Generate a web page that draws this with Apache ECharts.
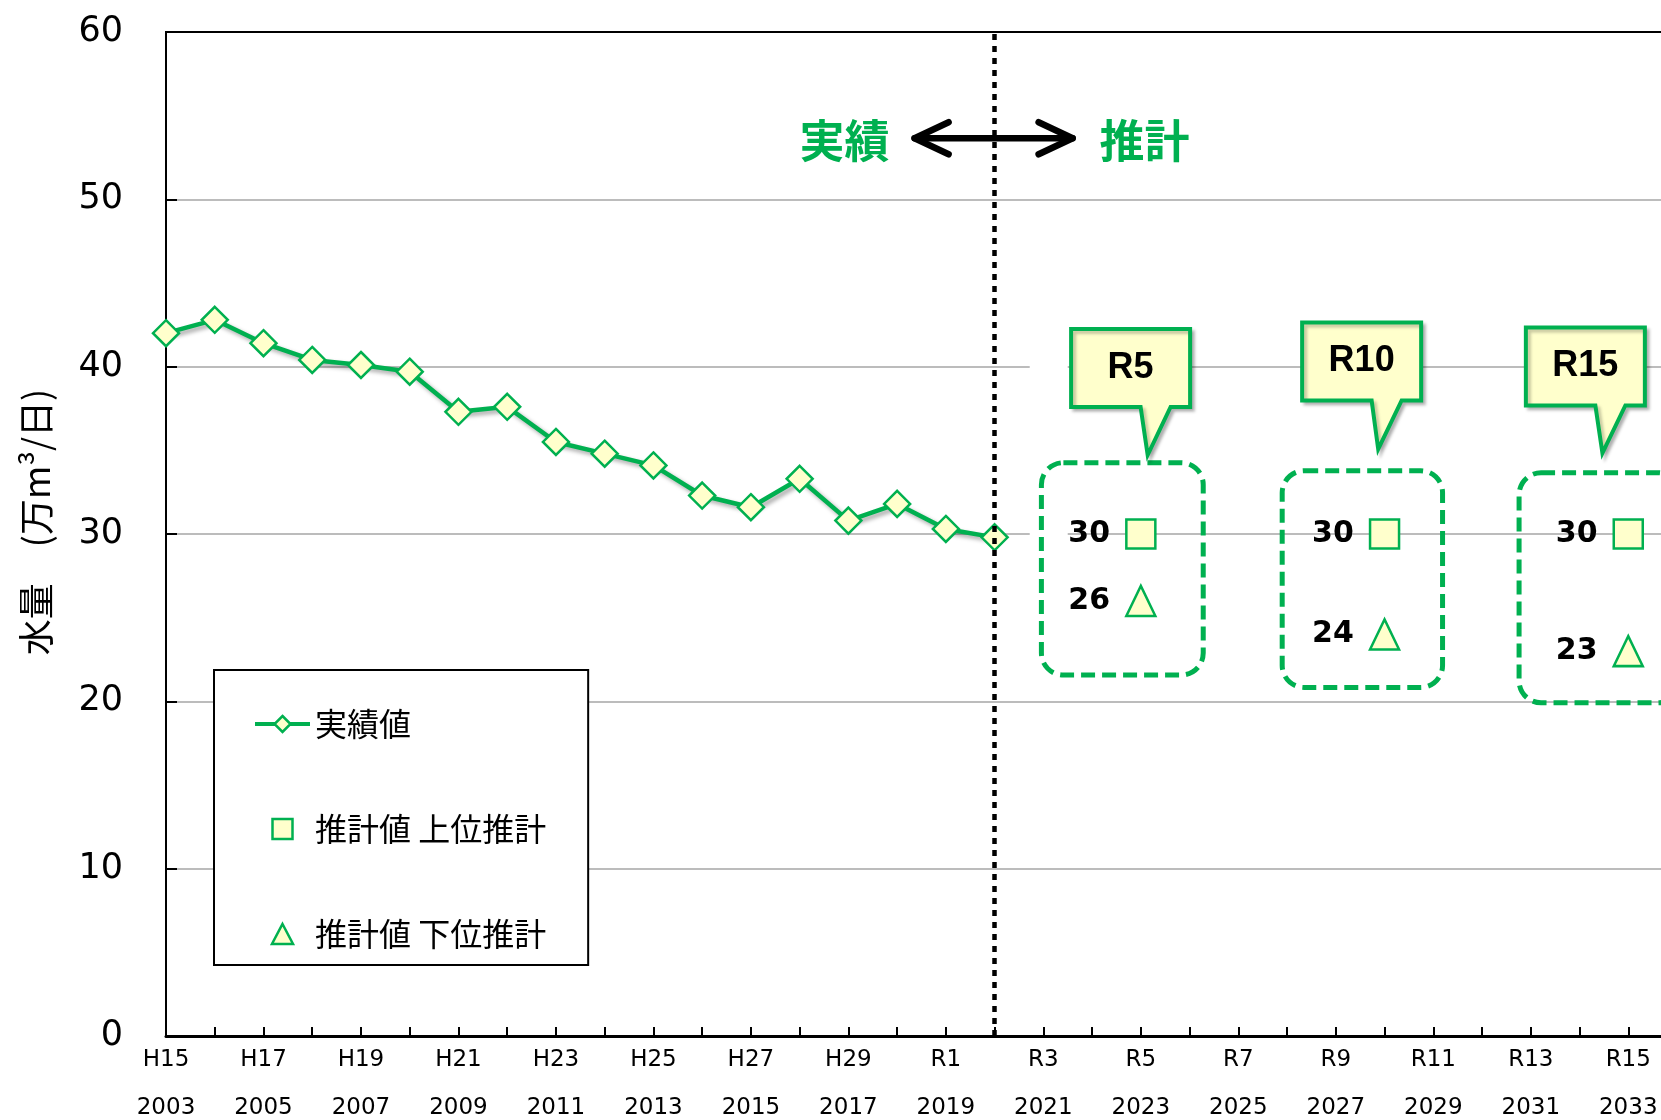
<!DOCTYPE html>
<html lang="ja">
<head>
<meta charset="utf-8">
<title>水量 実績と推計</title>
<script src="https://cdn.jsdelivr.net/npm/echarts@6/dist/echarts.min.js"></script>
<style>
  html, body { margin: 0; padding: 0; background: #fff; }
  #chart { width: 1661px; height: 1120px; }
</style>
</head>
<body>
<div id="chart"></div>
<script>
// 横軸の目盛ラベル（2年おき）
const yearTicks = [2003, 2005, 2007, 2009, 2011, 2013, 2015, 2017, 2019, 2021, 2023, 2025, 2027, 2029, 2031, 2033]
const eraTicks = ['H15', 'H17', 'H19', 'H21', 'H23', 'H25', 'H27', 'H29', 'R1', 'R3', 'R5', 'R7', 'R9', 'R11', 'R13', 'R15']

// 実績値（万m³/日）
const actualYears = [2003, 2004, 2005, 2006, 2007, 2008, 2009, 2010, 2011, 2012, 2013, 2014, 2015, 2016, 2017, 2018, 2019, 2020]
const actualValues = [42.0, 42.8, 41.4, 40.4, 40.1, 39.7, 37.3, 37.6, 35.5, 34.8, 34.1, 32.3, 31.6, 33.3, 30.8, 31.8, 30.3, 29.8]

// 推計値
const forecastYears = [2023, 2028, 2033]
const forecastNames = ['R5', 'R10', 'R15']
const forecastUpper = [30, 30, 30]
const forecastLower = [26, 24, 23]

const GREEN = '#00B050'
const FILL = '#FFFFCC'
const JP_FONT = '"Noto Sans CJK JP", sans-serif'
const NUM_FONT = '"DejaVu Sans", Verdana, sans-serif'
const shadow = { shadowBlur: 4, shadowColor: 'rgba(0,0,0,0.35)', shadowOffsetX: 3, shadowOffsetY: 3 }
const softShadow = { shadowBlur: 3, shadowColor: 'rgba(0,0,0,0.22)', shadowOffsetX: 3, shadowOffsetY: 3 }

// 注記の配置（データ座標）
const dashBoxes = [
  [2020.96, 34.26, 2024.28, 21.57],
  [2025.9, 33.78, 2029.19, 20.83],
  [2030.76, 33.66, 2034.06, 19.91]
]
const callouts = [
  { center: [2022.79, 39.92], tip: [2023.14, 34.72] },
  { center: [2027.53, 40.31], tip: [2027.87, 35.07] },
  { center: [2032.12, 40.01], tip: [2032.47, 34.84] }
]
// 目盛線を隠す白い背景（元図のテキスト枠）
const blankArea = [2020.72, 41.5, 2021.5, 28.5]

const chart = echarts.init(document.getElementById('chart'))

const option = {
  animation: false,
  backgroundColor: '#fff',
  grid: {
    left: 166, right: -16, top: 32, bottom: 84,
    show: true, borderColor: '#000', borderWidth: 2,
    outerBoundsMode: 'none'
  },
  legend: {
    orient: 'vertical',
    left: 214, top: 670,
    padding: [38, 42, 15, 39],
    itemGap: 73, itemWidth: 55, itemHeight: 20,
    symbolKeepAspect: true,
    backgroundColor: '#fff', borderColor: '#000', borderWidth: 2,
    selectedMode: false,
    lineStyle: { width: 4 },
    itemStyle: { borderWidth: 2.5 },
    textStyle: { fontSize: 32, color: '#000', fontFamily: JP_FONT },
    data: [
      { name: '実績値' },
      { name: '推計値 上位推計', icon: 'path://M0,0L10,0L10,10L0,10Z' },
      { name: '推計値 下位推計', icon: 'path://M5,0L10,9.5L0,9.5Z' }
    ]
  },
  xAxis: {
    type: 'value', min: 2003, max: 2034, interval: 1,
    axisLine: { show: true, onZero: false, lineStyle: { color: '#000', width: 3 } },
    axisTick: { show: true, inside: true, length: 9, lineStyle: { color: '#000', width: 2 } },
    axisLabel: {
      color: '#000', fontSize: 23, lineHeight: 48, margin: 0, fontFamily: NUM_FONT,
      showMinLabel: true, showMaxLabel: true,
      formatter: v => {
        const i = yearTicks.indexOf(v)
        return i < 0 ? '' : eraTicks[i] + '\n' + yearTicks[i]
      }
    },
    splitLine: { show: false }
  },
  yAxis: {
    type: 'value', min: 0, max: 60, interval: 10,
    name: '水量　(万m³/日)',
    nameLocation: 'middle', nameRotate: 90, nameGap: 112,
    nameTextStyle: { fontSize: 36, color: '#000', fontFamily: JP_FONT, padding: [0, 0, 0, 24] },
    axisLine: { show: true, lineStyle: { color: '#000', width: 2 } },
    axisTick: { show: true, inside: true, length: 11, lineStyle: { color: '#000', width: 2 } },
    axisLabel: { color: '#000', fontSize: 35, margin: 43, fontFamily: NUM_FONT },
    splitLine: { show: true, showMinLine: false, showMaxLine: false, lineStyle: { color: '#a6a6a6', width: 1.5 } }
  },
  series: [
    {
      name: '実績値',
      type: 'line',
      data: actualYears.map((y, i) => [y, actualValues[i]]),
      symbol: 'diamond', symbolSize: 26,
      lineStyle: { color: GREEN, width: 4.5, ...shadow },
      itemStyle: { color: FILL, borderColor: GREEN, borderWidth: 2.5 },
      z: 3,
      markLine: {
        silent: true,
        symbol: ['none', 'none'],
        label: { show: false },
        lineStyle: { color: '#000', width: 4.5, type: [6, 6] },
        data: [{ xAxis: actualYears[actualYears.length - 1] }]
      }
    },
    {
      name: '推計値 上位推計',
      type: 'scatter',
      data: forecastYears.map((y, i) => [y, forecastUpper[i]]),
      symbol: 'rect', symbolSize: 29,
      itemStyle: { color: FILL, borderColor: GREEN, borderWidth: 2.5, opacity: 1 },
      label: {
        show: true, position: 'left', distance: 15,
        formatter: p => p.value[1],
        color: '#000', fontSize: 30, fontWeight: 'bold', fontFamily: NUM_FONT
      },
      z: 4
    },
    {
      name: '推計値 下位推計',
      type: 'scatter',
      data: forecastYears.map((y, i) => [y, forecastLower[i]]),
      symbol: 'triangle', symbolSize: [29, 30],
      itemStyle: { color: FILL, borderColor: GREEN, borderWidth: 2.5, opacity: 1 },
      label: {
        show: true, position: 'left', distance: 15,
        formatter: p => p.value[1],
        color: '#000', fontSize: 30, fontWeight: 'bold', fontFamily: NUM_FONT
      },
      z: 4
    }
  ]
}

chart.setOption(option)

// 注記（矢印・吹き出し・破線枠）をデータ座標から配置
const px = (x, y) => chart.convertToPixel({ gridIndex: 0 }, [x, y])
const elements = []

const w0 = px(blankArea[0], blankArea[1])
const w1 = px(blankArea[2], blankArea[3])
elements.push({
  type: 'rect', z: 1, silent: true,
  shape: { x: w0[0], y: w0[1], width: w1[0] - w0[0], height: w1[1] - w0[1] },
  style: { fill: '#fff' }
})

dashBoxes.forEach(b => {
  const p0 = px(b[0], b[1])
  const p1 = px(b[2], b[3])
  elements.push({
    type: 'rect', z: 5, silent: true,
    shape: { x: p0[0], y: p0[1], width: p1[0] - p0[0], height: p1[1] - p0[1], r: 22 },
    style: { fill: 'none', stroke: GREEN, lineWidth: 5, lineDash: [14, 7] }
  })
})

callouts.forEach((c, i) => {
  const ctr = px(c.center[0], c.center[1])
  const tip = px(c.tip[0], c.tip[1])
  const w = 119, h = 78
  const l = ctr[0] - w / 2, r = ctr[0] + w / 2, t = ctr[1] - h / 2, b = ctr[1] + h / 2
  elements.push({
    type: 'polygon', z: 20, silent: true,
    shape: { points: [[l, t], [r, t], [r, b], [ctr[0] + 40, b], tip, [ctr[0] + 10, b], [l, b]] },
    style: { fill: FILL, stroke: GREEN, lineWidth: 4, ...softShadow }
  })
  elements.push({
    type: 'text', z: 21, silent: true, x: ctr[0], y: ctr[1],
    style: {
      text: forecastNames[i], fill: '#000',
      font: 'bold 36px "Liberation Sans", Arial, sans-serif',
      align: 'center', verticalAlign: 'middle'
    }
  })
})

// 実績 ⇔ 推計 の矢印
const bd = px(actualYears[actualYears.length - 1], 53.65)
const ax0 = bd[0] - 80, ax1 = bd[0] + 78, ay = bd[1]
const arrowStyle = { stroke: '#000', lineWidth: 6.5, lineCap: 'round', lineJoin: 'round', fill: 'none' }
elements.push({ type: 'polyline', z: 20, silent: true, shape: { points: [[ax0, ay], [ax1, ay]] }, style: arrowStyle })
elements.push({ type: 'polyline', z: 20, silent: true, shape: { points: [[ax0 + 34, ay - 16], [ax0, ay], [ax0 + 34, ay + 16]] }, style: arrowStyle })
elements.push({ type: 'polyline', z: 20, silent: true, shape: { points: [[ax1 - 34, ay - 16], [ax1, ay], [ax1 - 34, ay + 16]] }, style: arrowStyle })
;[['実績', -150], ['推計', 150]].forEach(([txt, dx]) => {
  elements.push({
    type: 'text', z: 20, silent: true, x: bd[0] + dx, y: ay + 3,
    style: { text: txt, fill: GREEN, font: 'bold 45px ' + JP_FONT, align: 'center', verticalAlign: 'middle' }
  })
})

chart.setOption({ graphic: elements })
</script>
</body>
</html>
